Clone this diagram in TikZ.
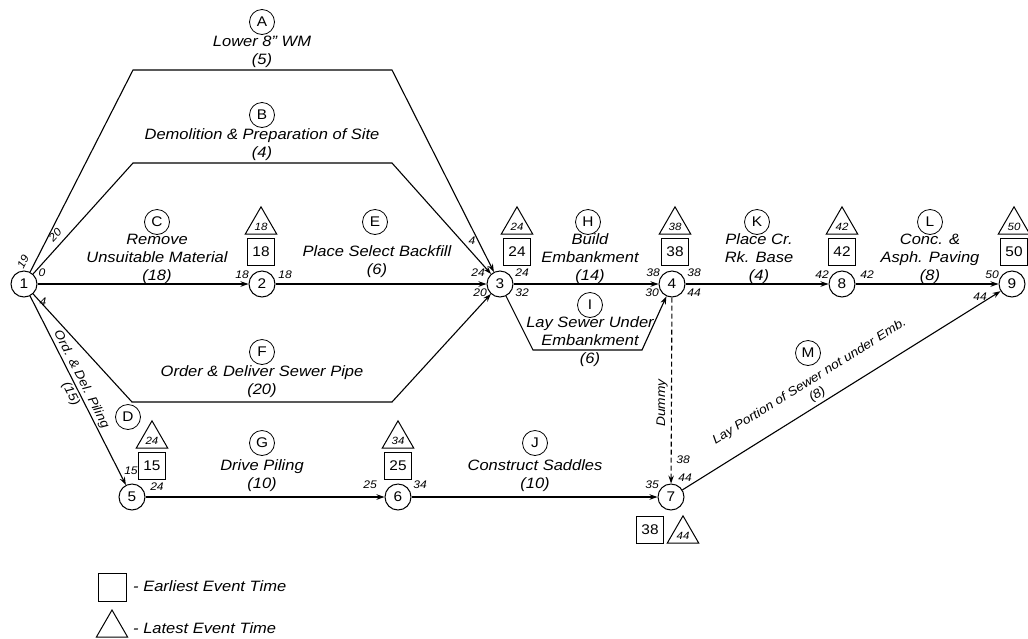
\documentclass[tikz,border=0pt]{standalone}
\usepackage{fontspec}
\setmainfont{Liberation Sans}[FakeStretch=1.1]
\usetikzlibrary{arrows.meta, positioning, calc, shapes.geometric}

\begin{document}
\begin{tikzpicture}[
    x=1pt, y=-1pt,
    event/.style = {circle, draw, line width=1pt, minimum size=26pt, inner sep=0pt,
                    font=\fontsize{14}{14}\selectfont},
    actid/.style = {circle, draw, line width=0.8pt, minimum size=25pt, inner sep=0pt,
                    font=\fontsize{14}{14}\selectfont},
    desc/.style  = {align=center, inner sep=0pt, font=\fontsize{15}{18}\selectfont\itshape},
    slab/.style  = {desc, font=\fontsize{12.5}{15}\selectfont\itshape},
    tim/.style   = {inner sep=0pt, font=\fontsize{11}{11}\selectfont\itshape},
    early/.style = {rectangle, draw, line width=1pt, minimum size=27pt, inner sep=0pt,
                    font=\fontsize{14}{14}\selectfont},
    late/.style  = {regular polygon, regular polygon sides=3, draw, line width=1pt,
                    minimum size=33pt, inner sep=0pt, text height=11pt, text depth=0pt,
                    font=\fontsize{10.5}{10.5}\selectfont\itshape},
    conn/.style  = {line width=1.1pt},
    arr/.style   = {conn, -{Stealth[length=8pt, width=5.5pt]}},
]

\useasboundingbox (0,0) rectangle (1028,638);

%% ---- Line heights (y) ----
\def\yM{284}     % main line 1-2-3-4-8-9
\def\yL{497}     % lower line 5-6-7

%% ---- Events ----
\foreach \n/\x/\y in {1/24/\yM, 2/262/\yM, 3/500/\yM, 4/672/\yM, 8/842/\yM,
                      9/1012/\yM, 5/132/\yL, 6/398/\yL, 7/671/\yL}{
    \node[event] (n\n) at (\x,\y) {\n};
}

%% ---- Bend points of the long activities ----
\coordinate (a1) at (133,70);   \coordinate (a2) at (392,70);
\coordinate (b1) at (133,163);  \coordinate (b2) at (392,163);
\coordinate (f1) at (132,402);  \coordinate (f2) at (392,402);
\coordinate (i1) at (533,350);  \coordinate (i2) at (642,350);

%% ---- Activities ----
\draw[arr] (n1) -- (a1) -- (a2) -- (n3);
\draw[arr] (n1) -- (b1) -- (b2) -- (n3);
\draw[arr] (n1) -- (n2);
\draw[arr] (n2) -- (n3);
\draw[arr] (n1) -- (f1) -- (f2) -- (n3);
\draw[arr] (n1) -- (n5)
    node[slab, pos=0.46, sloped, above=1.5pt] (lD) {Ord. \& Del. Piling}
    node[slab, pos=0.5, sloped, below=2pt] (dD) {(15)};
\draw[arr] (n3) -- (n4);
\draw[arr] (n3) -- (i1) -- (i2) -- (n4);
\draw[arr] (n4) -- (n8);
\draw[arr] (n8) -- (n9);
\draw[arr, dash pattern=on 5pt off 3pt] (n4) -- (n7);
\draw[arr] (n5) -- (n6);
\draw[arr] (n6) -- (n7);
\draw[arr] (n7) -- (n9)
    node[slab, pos=0.44, sloped, above=3pt] (lM)
    {Lay Portion of Sewer not under Emb.\\(8)};

%% ---- Activity letters and descriptions ----
\node[actid] (cA) at (262,22)  {A};
\node[desc]  (lA) at (262,52)  {Lower 8" WM\\(5)};
\node[actid] (cB) at (262,115) {B};
\node[desc]  (lB) at (262,145) {Demolition \& Preparation of Site\\(4)};
\node[actid] (cC) at (157,222) {C};
\node[desc]  (lC) at (157,259) {Remove\\Unsuitable Material\\(18)};
\node[actid] (cE) at (375,222) {E};
\node[desc]  (lE) at (377,262) {Place Select Backfill\\(6)};
\node[actid] (cF) at (262,352) {F};
\node[desc]  (lF) at (262,382) {Order \& Deliver Sewer Pipe\\(20)};
\node[actid] (cH) at (588,222) {H};
\node[desc]  (lH) at (590,259) {Build\\Embankment\\(14)};
\node[actid] (cI) at (590,305) {I};
\node[desc]  (lI) at (590,342) {Lay Sewer Under\\Embankment\\(6)};
\node[actid] (cK) at (757,222) {K};
\node[desc]  (lK) at (759,259) {Place Cr.\\Rk. Base\\(4)};
\node[actid] (cL) at (930,222) {L};
\node[desc]  (lL) at (930,259) {Conc. \&\\Asph. Paving\\(8)};
\node[actid] (cD) at (128,417) {D};
\node[actid] (cG) at (262,443) {G};
\node[desc]  (lG) at (262,476) {Drive Piling\\(10)};
\node[actid] (cJ) at (535,443) {J};
\node[desc]  (lJ) at (535,476) {Construct Saddles\\(10)};
\node[actid] (cM) at (808,353) {M};
\node[slab, rotate=90] (lDum) at (662,403) {Dummy};

%% ---- Earliest (square) / latest (triangle) event times ----
\foreach \n/\x/\e/\l in {2/261/18/18, 3/517/24/24, 4/675/38/38, 8/842/42/42, 9/1014/50/50}{
    \node[late]  (L\n) at (\x,225) {\l};
    \node[early] (E\n) at (\x,252) {\e};
}
\foreach \n/\x/\e/\l in {5/152/15/24, 6/398/25/34}{
    \node[late]  (L\n) at (\x,439) {\l};
    \node[early] (E\n) at (\x,466) {\e};
}
\node[early] (E7) at (650,530) {38};
\node[late]  (L7) at (683,534) {44};

%% ---- Start / finish times at the arrow ends ----
\foreach \x/\y/\v [count=\k] in {42/273/0, 43/302/4, 242/275/18, 285/275/18,
        472/241/4, 478/273/24, 480/293/20, 522/273/24, 522/293/32,
        653/273/38, 652/293/30, 694/273/38, 694/293/44,
        822/275/42, 867/275/42, 992/275/50, 980/297/44,
        131/471/15, 157/487/24, 370/485/25, 420/485/34,
        652/485/35, 683/460/38, 685/478/44}{
    \node[tim] (t\k) at (\x,\y) {\v};
}
\node[tim, rotate=63] (tA) at (23,262) {19};
\node[tim, rotate=48] (tB) at (55,235) {20};

%% ---- Legend ----
\node[early, minimum size=28pt] (legE) at (112,587) {};
\node[desc, anchor=west] (legEt) at (133,586) {- Earliest Event Time};
\node[late, minimum size=36pt] (legL) at (112,628) {};
\node[desc, anchor=west] (legLt) at (133,628) {- Latest Event Time};

\end{tikzpicture}
\end{document}
